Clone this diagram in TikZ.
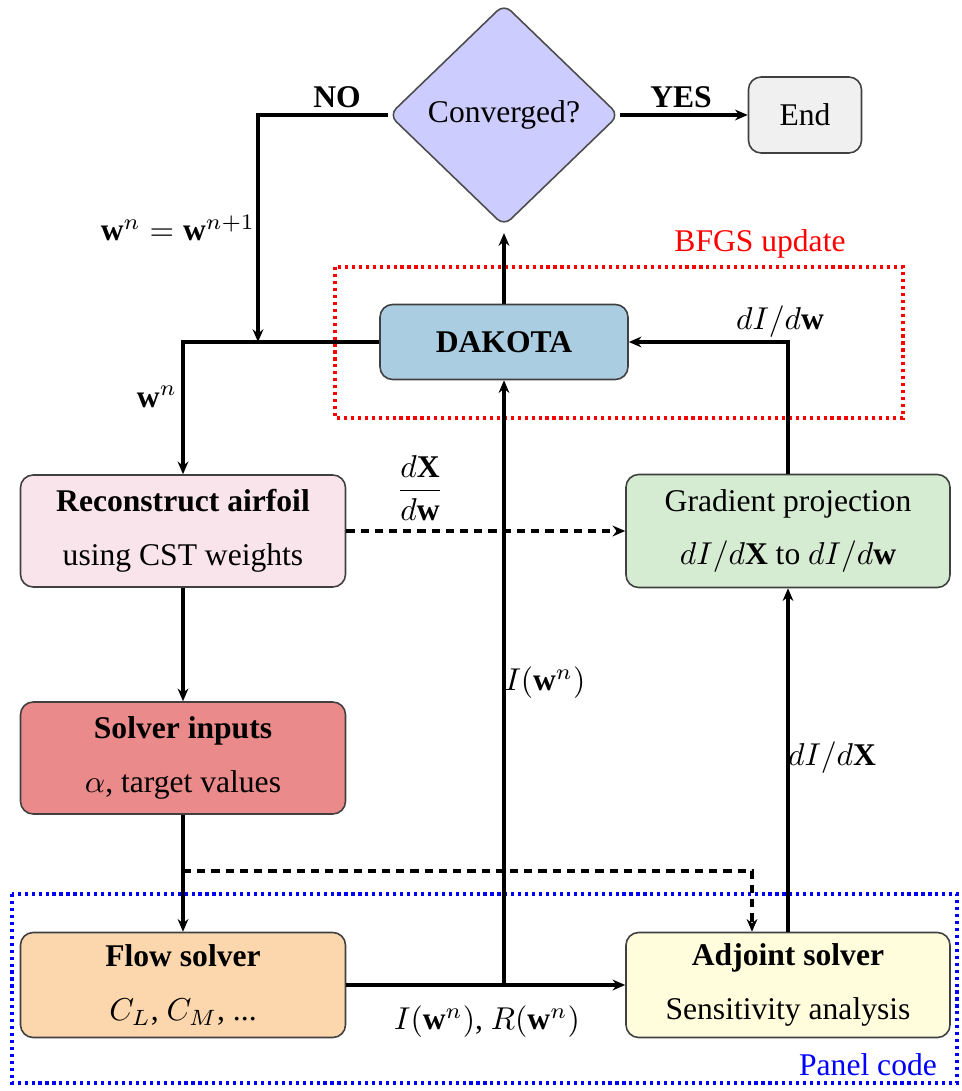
\documentclass[tikz,border=0pt]{standalone}
\usepackage{fontspec}
\setmainfont{Liberation Serif}
\usetikzlibrary{shapes.geometric,arrows.meta}
\definecolor{cconv}{RGB}{204,204,255}
\definecolor{cend}{RGB}{240,240,240}
\definecolor{cdak}{RGB}{171,205,226}
\definecolor{crec}{RGB}{248,228,234}
\definecolor{cgrad}{RGB}{213,236,210}
\definecolor{csol}{RGB}{234,138,138}
\definecolor{cflow}{RGB}{252,214,172}
\definecolor{cadj}{RGB}{255,253,220}
\def\u{0.3165pt}
\begin{document}
\begin{tikzpicture}[x=0.3165pt,y=-0.3165pt,
  box/.style={draw=black!75, line width=0.5pt, rounded corners=4pt, align=center, inner sep=0pt},
  arr/.style={line width=1.2pt,-{Stealth[length=4pt,width=3.4pt,inset=1.3pt]}},
  dsh/.style={dash pattern=on 2.6pt off 1.9pt},
  lbl/.style={inner sep=0pt}]
\useasboundingbox (0,0) rectangle (961,1091);
% groups
\draw[red, line width=1pt, dash pattern=on 1pt off 1.2pt] (335,267) rectangle (903,418);
\draw[blue, line width=1pt, dash pattern=on 1pt off 1.2pt] (12,894) rectangle (957,1083);
\node[lbl, red] (bfgs) at (760,244) {BFGS update};
\node[lbl, blue] (panel) at (868,1065) {Panel code};
% nodes
\node[diamond, draw=black!70, line width=0.5pt, fill=cconv, minimum width=230*\u, minimum height=222*\u, aspect=1.04, inner sep=0pt, rounded corners=3pt] (conv) at (504,115) {Converged?};
\node[box, fill=cend, minimum width=113*\u, minimum height=76*\u] (end) at (805,115) {End};
\node[box, fill=cdak, minimum width=248*\u, minimum height=75*\u] (dak) at (504,342) {\textbf{DAKOTA}};
\node[box, fill=crec, minimum width=325*\u, minimum height=112*\u] (rec) at (183,531) {\textbf{Reconstruct airfoil}\\[5pt] using CST weights};
\node[box, fill=cgrad, minimum width=324*\u, minimum height=113*\u] (grad) at (788,531) {Gradient projection\\[5pt] $dI/d\mathbf{X}$ to $dI/d\mathbf{w}$};
\node[box, fill=csol, minimum width=325*\u, minimum height=112*\u] (sol) at (183,758) {\textbf{Solver inputs}\\[5pt] $\alpha$, target values};
\node[box, fill=cflow, minimum width=325*\u, minimum height=105*\u] (flow) at (183,985) {\textbf{Flow solver}\\[5pt] $C_L$, $C_M$, ...};
\node[box, fill=cadj, minimum width=324*\u, minimum height=105*\u] (adj) at (788,985) {\textbf{Adjoint solver}\\[5pt] Sensitivity analysis};
% labels
\node[lbl] (no) at (337,97) {\textbf{NO}};
\node[lbl] (yes) at (681,97) {\textbf{YES}};
\node[lbl] (wupd) at (178,228) {$\mathbf{w}^n = \mathbf{w}^{n+1}$};
\node[lbl] (wn) at (157,397) {$\mathbf{w}^n$};
\node[lbl] (didw) at (780,322) {$dI/d\mathbf{w}$};
\node[lbl] (dxdw) at (420,488) {$\displaystyle\frac{d\mathbf{X}}{d\mathbf{w}}$};
\node[lbl] (iw) at (545,683) {$I(\mathbf{w}^n)$};
\node[lbl] (didx) at (832,758) {$dI/d\mathbf{X}$};
\node[lbl] (iwrw) at (487,1022) {$I(\mathbf{w}^n)$, $R(\mathbf{w}^n)$};
% coordinates
\coordinate (j1) at (258,342);
\coordinate (d1) at (183,871);
\coordinate (d2) at (752,871);
\coordinate (jm) at (504,985);
% connectors
\draw[arr] (conv.west) -| (j1);
\draw[arr] (dak.west) -| (rec.north);
\draw[arr] (conv.east) -- (end.west);
\draw[arr, shorten >=2pt] (dak.north) -- (dak.north |- conv.south);
\draw[arr] (grad.north) |- (dak.east);
\draw[arr, dsh] (rec.east) -- (grad.west);
\draw[arr] (rec.south) -- (sol.north);
\draw[arr] (sol.south) -- (flow.north);
\draw[arr, dsh] (d1) -- (d2) -- (d2 |- adj.north);
\draw[arr, line width=1.5pt] (flow.east) -- (adj.west);
\draw[arr] (jm) -- (dak.south);
\draw[arr] (adj.north) -- (grad.south);
\end{tikzpicture}
\end{document}
